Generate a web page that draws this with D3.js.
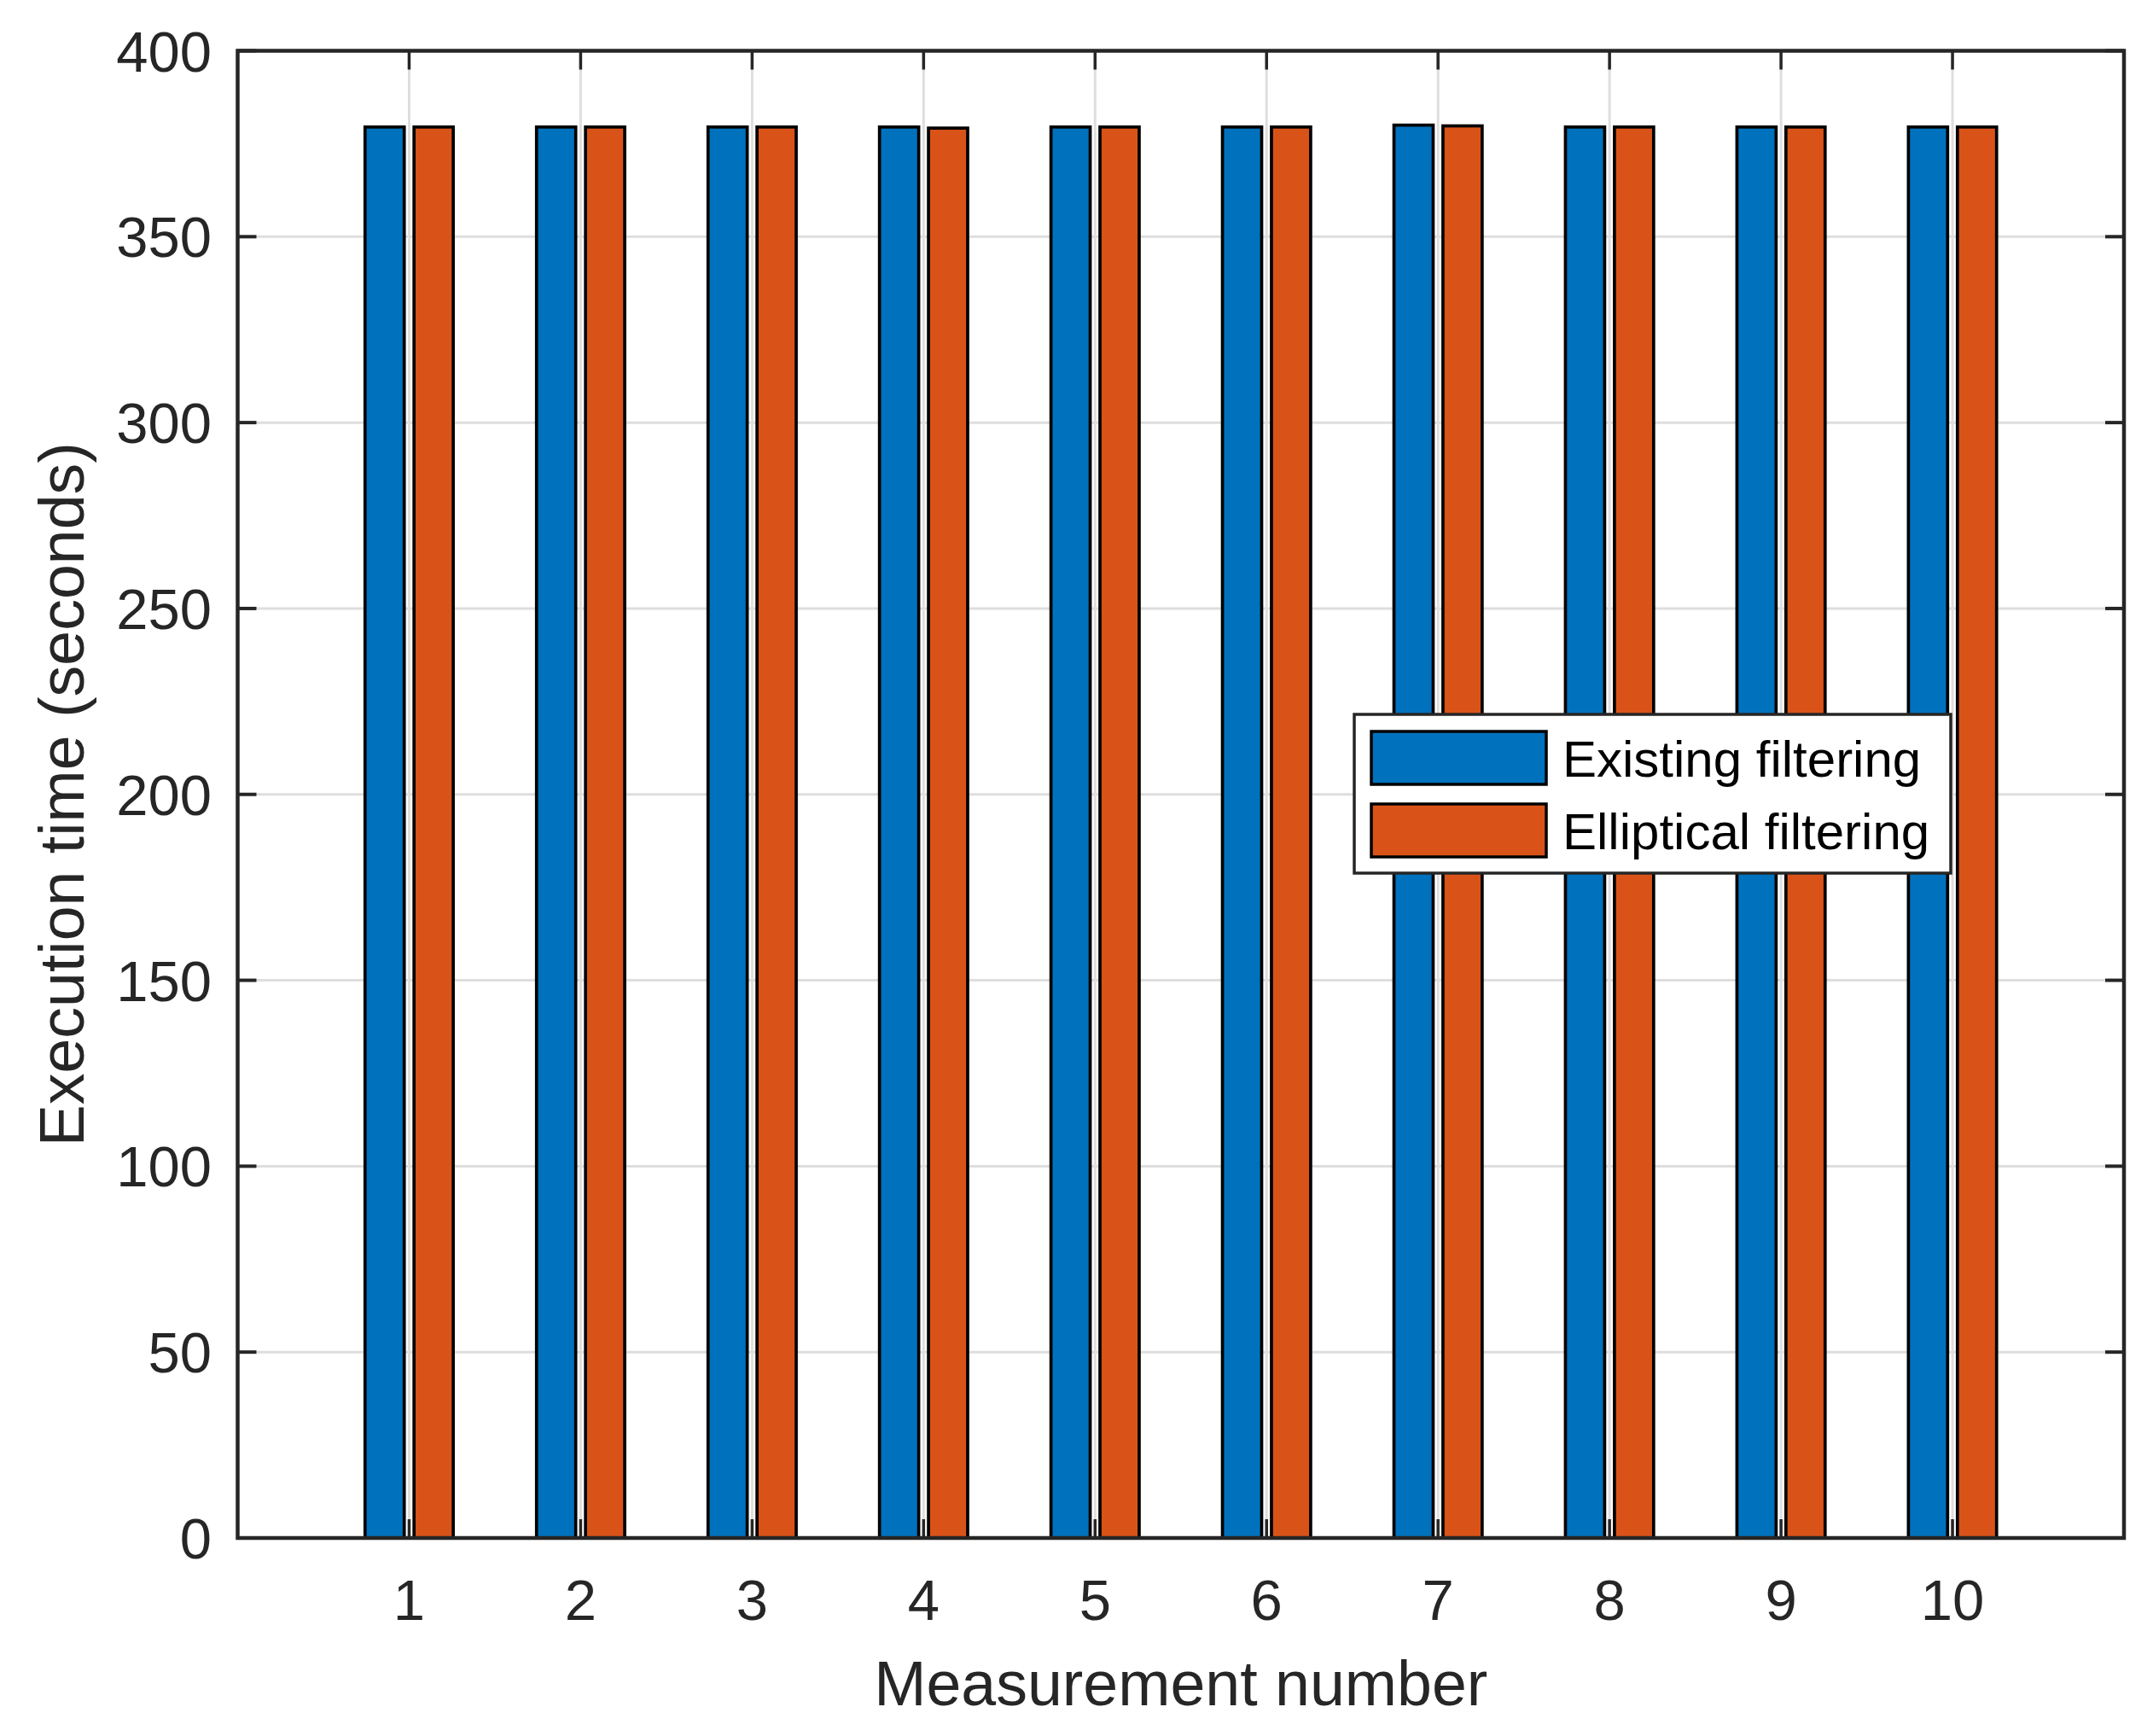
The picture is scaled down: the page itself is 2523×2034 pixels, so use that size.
<!DOCTYPE html>
<html>
<head>
<meta charset="utf-8">
<script src="https://cdn.jsdelivr.net/npm/d3@7"></script>
<style>
  body { margin: 0; background: #fff; }
  text { font-family: "Liberation Sans", Arial, Helvetica, sans-serif; }
</style>
</head>
<body>
<div id="chart"></div>
<script>
// measurement numbers and execution times (seconds)
const measurements = [1, 2, 3, 4, 5, 6, 7, 8, 9, 10];
const existingFiltering   = [379.5, 379.5, 379.5, 379.5, 379.5, 379.5, 380.0, 379.5, 379.5, 379.5];
const ellipticalFiltering = [379.5, 379.5, 379.5, 379.2, 379.5, 379.5, 379.8, 379.5, 379.5, 379.5];
const seriesNames = ["Existing filtering", "Elliptical filtering"];
const yTicks = [0, 50, 100, 150, 200, 250, 300, 350, 400];
const xLabel = "Measurement number";
const yLabel = "Execution time (seconds)";

const W = 2523, H = 2034;
const axisColor = "#262626";
const gridColor = "#dedede";
const colors = ["#0072BD", "#D95319"];
const tickLen = 22;

const svg = d3.select("#chart").append("svg")
  .attr("width", W)
  .attr("height", H);
svg.append("rect").attr("width", W).attr("height", H).attr("fill", "#fff");

const x = d3.scaleLinear().domain([0, 11]).range([278.5, 2489]);
const y = d3.scaleLinear().domain([0, 400]).range([1802, 59.5]);

// grid
const grid = svg.append("g").attr("id", "grid");
grid.selectAll("line.gy").data(yTicks).enter().append("line")
  .attr("x1", x(0)).attr("x2", x(11))
  .attr("y1", d => y(d)).attr("y2", d => y(d))
  .attr("stroke", gridColor).attr("stroke-width", 3);
grid.selectAll("line.gx").data(measurements).enter().append("line")
  .attr("x1", d => x(d)).attr("x2", d => x(d))
  .attr("y1", y(0)).attr("y2", y(400))
  .attr("stroke", gridColor).attr("stroke-width", 3);

// bars (matlab grouped bar layout)
const groupWidth = 0.5714;
const barW = groupWidth / 2 * 0.8;
const offsets = [-groupWidth / 4, groupWidth / 4];
const series = [existingFiltering, ellipticalFiltering];
const bars = svg.append("g").attr("id", "bars");
series.forEach((vals, s) => {
  bars.selectAll(`rect.s${s}`)
    .data(vals)
    .enter().append("rect")
    .attr("class", `s${s}`)
    .attr("x", (d, i) => x(measurements[i] + offsets[s] - barW / 2))
    .attr("width", x(barW) - x(0))
    .attr("y", d => y(d))
    .attr("height", d => y(0) - y(d))
    .attr("fill", colors[s])
    .attr("stroke", "#000")
    .attr("stroke-width", 3.7);
});

// axes box and ticks
const ax = svg.append("g").attr("id", "axes");
ax.append("rect")
  .attr("x", x(0)).attr("y", y(400))
  .attr("width", x(11) - x(0)).attr("height", y(0) - y(400))
  .attr("fill", "none").attr("stroke", axisColor).attr("stroke-width", 4.5);

yTicks.forEach(t => {
  ax.append("line").attr("x1", x(0)).attr("x2", x(0) + tickLen)
    .attr("y1", y(t)).attr("y2", y(t)).attr("stroke", axisColor).attr("stroke-width", 4);
  ax.append("line").attr("x1", x(11)).attr("x2", x(11) - tickLen)
    .attr("y1", y(t)).attr("y2", y(t)).attr("stroke", axisColor).attr("stroke-width", 4);
});
measurements.forEach(t => {
  ax.append("line").attr("x1", x(t)).attr("x2", x(t))
    .attr("y1", y(0)).attr("y2", y(0) - tickLen).attr("stroke", axisColor).attr("stroke-width", 3.5);
  ax.append("line").attr("x1", x(t)).attr("x2", x(t))
    .attr("y1", y(400)).attr("y2", y(400) + tickLen).attr("stroke", axisColor).attr("stroke-width", 3.5);
});

// tick labels
ax.selectAll("text.yt").data(yTicks).enter().append("text")
  .attr("x", 248).attr("y", d => y(d))
  .attr("dy", "0.36em")
  .attr("text-anchor", "end")
  .attr("font-size", 67)
  .attr("fill", axisColor)
  .text(d => d);
ax.selectAll("text.xt").data(measurements).enter().append("text")
  .attr("x", d => x(d)).attr("y", 1898)
  .attr("text-anchor", "middle")
  .attr("font-size", 67)
  .attr("fill", axisColor)
  .text(d => d);

// axis labels
svg.append("text")
  .attr("x", (x(0) + x(11)) / 2).attr("y", 1998)
  .attr("text-anchor", "middle")
  .attr("font-size", 73.5)
  .attr("fill", axisColor)
  .text(xLabel);
svg.append("text")
  .attr("transform", `translate(98,${(y(0) + y(400)) / 2}) rotate(-90)`)
  .attr("text-anchor", "middle")
  .attr("font-size", 73.5)
  .attr("fill", axisColor)
  .text(yLabel);

// legend
const legend = svg.append("g").attr("id", "legend");
legend.append("rect")
  .attr("x", 1587).attr("y", 837)
  .attr("width", 699).attr("height", 186)
  .attr("fill", "#fff").attr("stroke", axisColor).attr("stroke-width", 3.5);
const items = legend.selectAll("g.item").data(seriesNames).enter().append("g")
  .attr("class", "item")
  .attr("transform", (d, i) => `translate(0,${888 + i * 85})`);
items.append("rect")
  .attr("x", 1607).attr("y", -31)
  .attr("width", 205).attr("height", 62)
  .attr("fill", (d, i) => colors[i])
  .attr("stroke", "#000").attr("stroke-width", 3.5);
items.append("text")
  .attr("x", 1831).attr("y", 0)
  .attr("dy", "0.36em")
  .attr("font-size", 60)
  .attr("fill", "#000")
  .text(d => d);
</script>
</body>
</html>
